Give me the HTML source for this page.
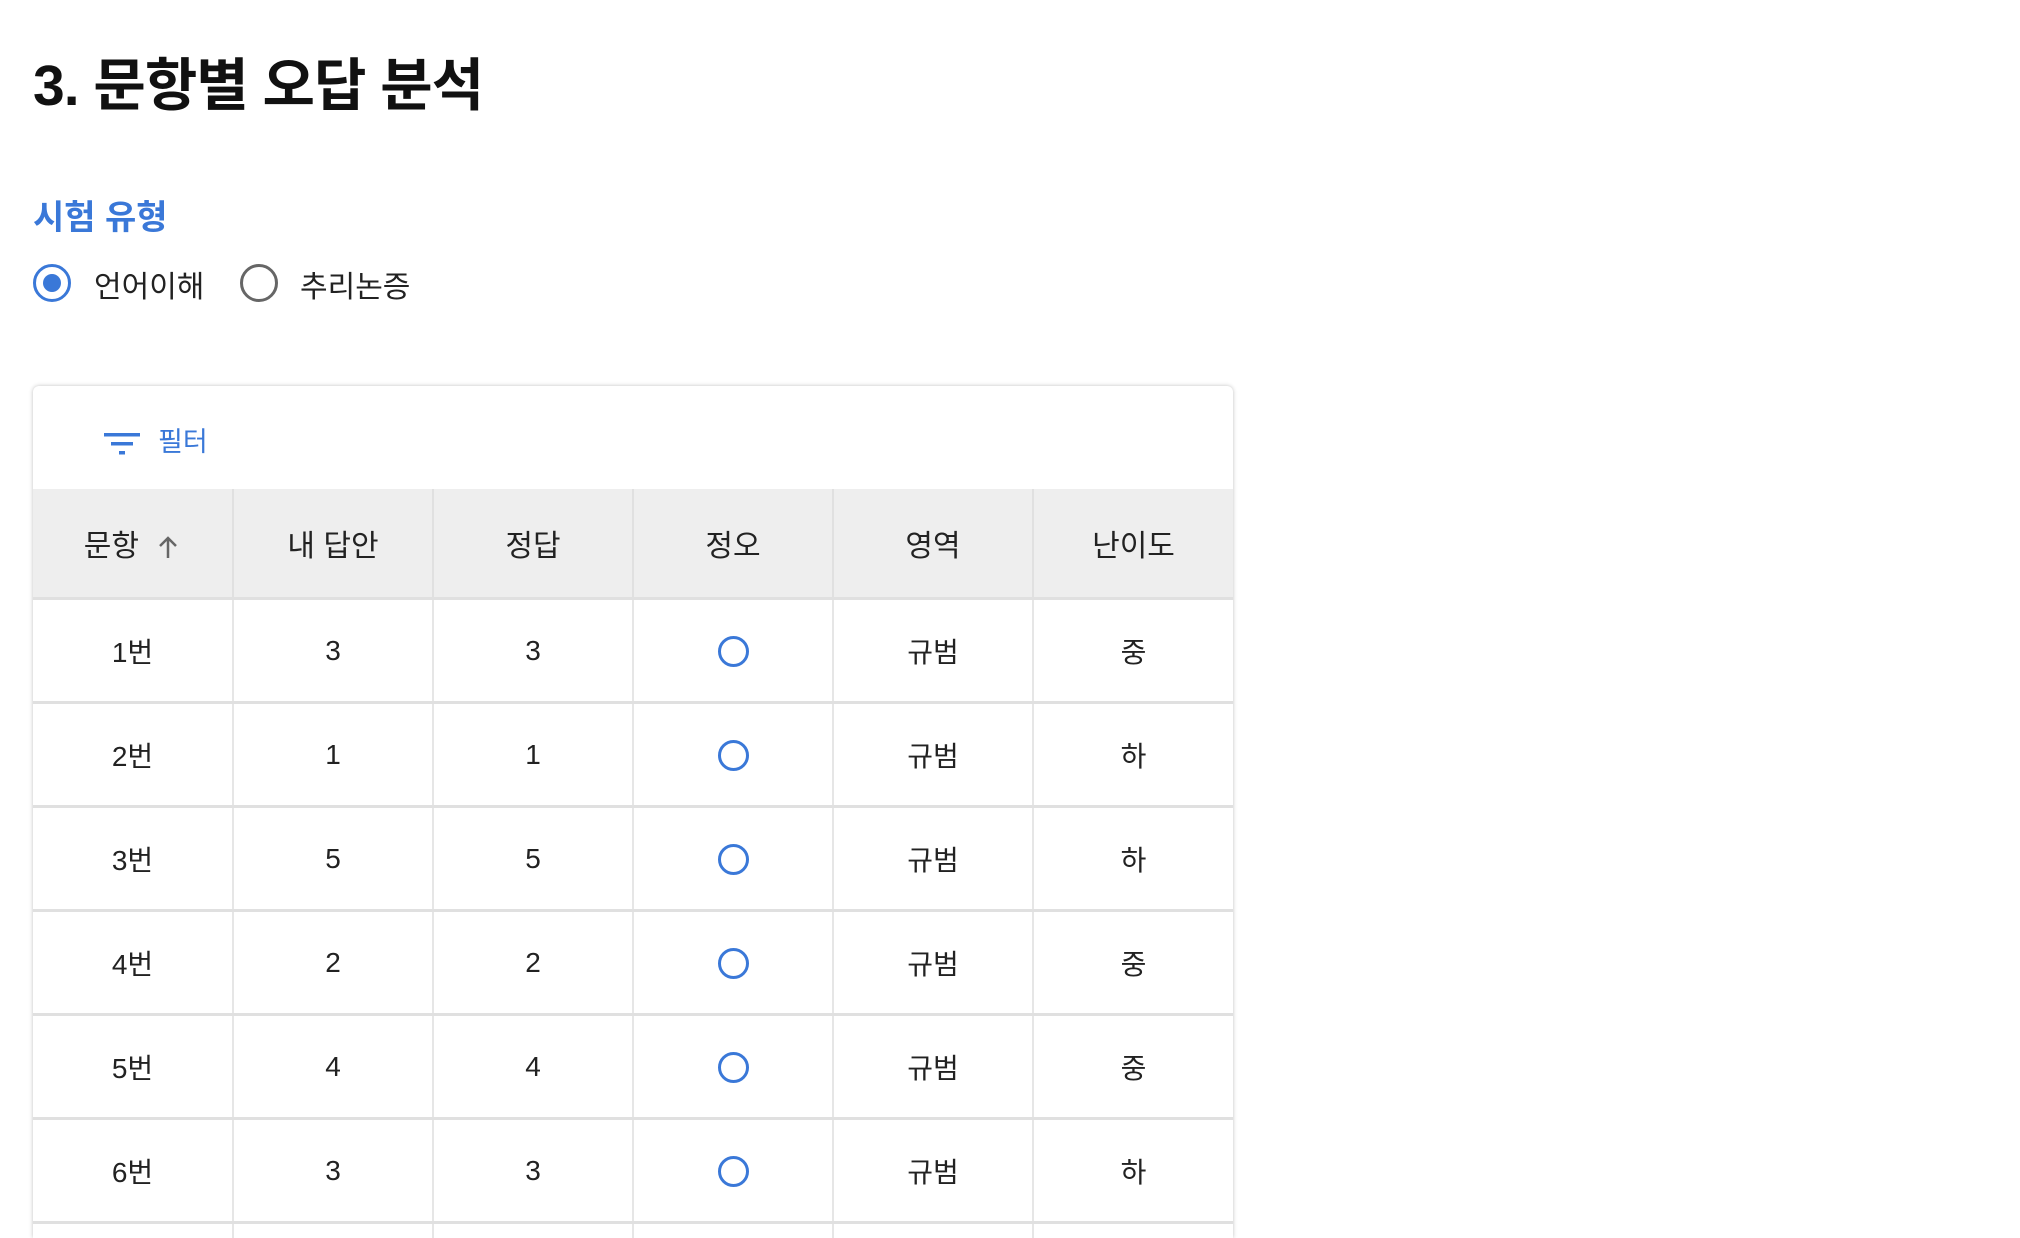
<!DOCTYPE html>
<html style="overflow:hidden;height:1238px"><head><meta charset="utf-8"><style>
body{margin:0;width:2020px;height:1238px;overflow:hidden;background:#fff;font-family:"Liberation Sans","Noto Sans CJK KR",sans-serif;color:#222;position:relative}
h1{position:absolute;left:33px;top:40px;margin:0;font-size:57px;font-weight:bold;color:#111;letter-spacing:-1px}
.sub{position:absolute;left:33px;top:190px;font-size:34px;font-weight:bold;color:#3a78d8}
.radio{position:absolute;top:264px;width:32px;height:32px;border-radius:50%;border:3px solid #666}
.radio.on{border-color:#3a78d8}
.radio.on::after{content:"";position:absolute;left:7px;top:7px;width:18px;height:18px;border-radius:50%;background:#3a78d8}
.lbl{position:absolute;top:262px;font-size:30px;color:#222}
.card{position:absolute;left:33px;top:386px;width:1200px;height:852px;background:#fff;border-radius:6px 6px 0 0;box-shadow:0 0 4px rgba(0,0,0,.25);overflow:hidden}
.filter{position:absolute;left:71px;top:34px;font-size:27px;color:#3a78d8}
table{position:absolute;left:0;top:103px;border-collapse:collapse;width:1200px;table-layout:fixed}
th{background:#eee;height:106px;font-size:30px;font-weight:normal;border-right:2px solid #e0e0e0;border-bottom:3px solid #e0e0e0}
td{height:99px;text-align:center;font-size:28px;border-right:2px solid #e6e6e6;border-bottom:3px solid #e0e0e0}
th:last-child,td:last-child{border-right:none}
tr.cut td{height:24px;border-bottom:none;font-size:0;line-height:0;padding:0;overflow:hidden}
tr.cut .o{visibility:hidden;width:0;height:0;border:0}
.o{display:inline-block;width:25px;height:25px;border:3px solid #3a78d8;border-radius:50%;vertical-align:middle}
</style></head><body>
<h1>3. 문항별 오답 분석</h1>
<div class="sub">시험 유형</div>
<div class="radio on" style="left:33px"></div>
<div class="lbl" style="left:94px">언어이해</div>
<div class="radio" style="left:240px"></div>
<div class="lbl" style="left:300px">추리논증</div>
<div class="card">
<div class="filter"><svg width="36" height="26" viewBox="0 0 36 26" style="vertical-align:middle;margin-right:18px"><rect x="0" y="2" width="36" height="3.5" fill="#3a78d8"/><rect x="7" y="11" width="22" height="3.5" fill="#3a78d8"/><rect x="15" y="20" width="6" height="3.5" fill="#3a78d8"/></svg>필터</div>
<table>
<thead><tr>
<th>문항 <svg width="26" height="26" viewBox="0 0 26 26" style="vertical-align:middle;margin-left:8px"><path d="M13 23V4M5 11l8-8 8 8" stroke="#666" stroke-width="2.5" fill="none"/></svg></th>
<th>내 답안</th>
<th>정답</th>
<th>정오</th>
<th>영역</th>
<th>난이도</th>
</tr></thead>
<tbody id="tb"></tbody>
</table>
</div>
<script>
const questions=["1번","2번","3번","4번","5번","6번","7번"];
const myAnswers=[3,1,5,2,4,3,1];
const correctAnswers=[3,1,5,2,4,3,1];
const areas=["규범","규범","규범","규범","규범","규범","규범"];
const levels=["중","하","하","중","중","하","중"];
const tb=document.getElementById('tb');
questions.forEach((q,i)=>{
  const tr=document.createElement('tr');
  
  
  if(i===questions.length-1) tr.className='cut';
  const vals=[q,myAnswers[i],correctAnswers[i],null,areas[i],levels[i]];
  vals.forEach((v,j)=>{
    const td=document.createElement('td');
    
    
    if(j===3){const s=document.createElement('span');s.className=myAnswers[i]===correctAnswers[i]?'o':'';
      
      
      if(myAnswers[i]!==correctAnswers[i]){s.textContent='X';}
      td.appendChild(s);}
    else td.textContent=v;
    tr.appendChild(td);
  });
  tb.appendChild(tr);
});
</script>
</body></html>
